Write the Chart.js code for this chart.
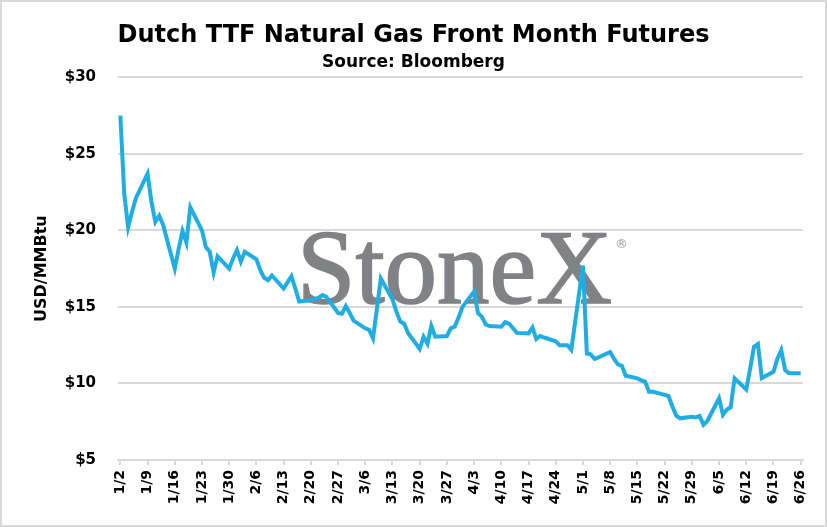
<!DOCTYPE html>
<html>
<head>
<meta charset="utf-8">
<script src="https://cdn.jsdelivr.net/npm/chart.js@4/dist/chart.umd.min.js"></script>
<style>
  html, body { margin: 0; padding: 0; background: #fff; }
  #wrap { width: 827px; height: 527px; position: relative; }
</style>
</head>
<body>
<div id="wrap"><canvas id="myChart" width="827" height="527"></canvas></div>
<script>
// trading days, 2023
const dates = [
  "1/2","1/3","1/4","1/5","1/6","1/9","1/10","1/11","1/12","1/13",
  "1/16","1/17","1/18","1/19","1/20","1/23","1/24","1/25","1/26","1/27",
  "1/30","1/31","2/1","2/2","2/3","2/6","2/7","2/8","2/9","2/10",
  "2/13","2/14","2/15","2/16","2/17","2/20","2/21","2/22","2/23","2/24",
  "2/27","2/28","3/1","3/2","3/3","3/6","3/7","3/8","3/9","3/10",
  "3/13","3/14","3/15","3/16","3/17","3/20","3/21","3/22","3/23","3/24",
  "3/27","3/28","3/29","3/30","3/31","4/3","4/4","4/5","4/6","4/7",
  "4/10","4/11","4/12","4/13","4/14","4/17","4/18","4/19","4/20","4/21",
  "4/24","4/25","4/26","4/27","4/28","5/1","5/2","5/3","5/4","5/5",
  "5/8","5/9","5/10","5/11","5/12","5/15","5/16","5/17","5/18","5/19",
  "5/22","5/23","5/24","5/25","5/26","5/29","5/30","5/31","6/1","6/2",
  "6/5","6/6","6/7","6/8","6/9","6/12","6/13","6/14","6/15","6/16",
  "6/19","6/20","6/21","6/22","6/23","6/26"
];

// USD/MMBtu
const prices = [
  27.5, 22.4, 20.2, 21.2, 22.1, 23.7, 21.85, 20.55, 20.95, 20.35,
  17.5, 18.8, 19.95, 19.2, 21.5, 20.0, 18.9, 18.6, 17.25, 18.3,
  17.5, 18.15, 18.7, 17.95, 18.6, 18.1, 17.4, 16.9, 16.75, 17.05,
  16.2, 16.6, 17.0, 16.2, 15.35, 15.45, 15.5, 15.6, 15.77, 15.65,
  14.6, 14.55, 15.05, 14.6, 14.1, 13.6, 13.5, 12.95, 14.9, 16.85,
  15.5, 14.7, 14.05, 13.9, 13.3, 12.25, 13.05, 12.6, 13.75, 13.05,
  13.1, 13.6, 13.7, 14.3, 15.0, 16.0, 14.6, 14.35, 13.85, 13.75,
  13.7, 14.0, 13.9, 13.6, 13.3, 13.27, 13.65, 12.9, 13.1, 13.0,
  12.75, 12.5, 12.5, 12.5, 12.2, 17.7, 11.95, 11.9, 11.6, 11.7,
  12.05, 11.6, 11.25, 11.15, 10.5, 10.33, 10.2, 10.1, 9.45, 9.45,
  9.25, 9.18, 8.5, 7.9, 7.72, 7.83, 7.78, 7.87, 7.3, 7.55,
  9.03, 7.95, 8.3, 8.45, 10.33, 9.6, 10.97, 12.4, 12.57, 10.35,
  10.76, 11.6, 12.18, 10.87, 10.66, 10.66
];

const tickLabels = [
  "1/2","1/9","1/16","1/23","1/30","2/6","2/13","2/20","2/27",
  "3/6","3/13","3/20","3/27","4/3","4/10","4/17","4/24",
  "5/1","5/8","5/15","5/22","5/29","6/5","6/12","6/19","6/26"
];

const yTicks = [5, 10, 15, 20, 25, 30];

// days since 1/2
function dayNum(md) {
  const [m, d] = md.split("/").map(Number);
  return Math.round((Date.UTC(2023, m - 1, d) - Date.UTC(2023, 0, 2)) / 86400000);
}

const points = dates.map((d, i) => ({ x: dayNum(d), y: prices[i] }));
const tickDays = tickLabels.map(dayNum);

const fontMain = "'DejaVu Sans', Tahoma, sans-serif";
const gridGray = "#d9d9d9";

const frame = {
  id: "frame",
  beforeDraw(chart) {
    const ctx = chart.ctx;
    ctx.save();
    ctx.fillStyle = "#fff";
    ctx.fillRect(0, 0, chart.width, chart.height);
    ctx.strokeStyle = gridGray;
    ctx.lineWidth = 2;
    ctx.strokeRect(1, 1, chart.width - 2, chart.height - 2);
    ctx.restore();
  },
};

const watermark = {
  id: "watermark",
  beforeDatasetsDraw(chart) {
    const { ctx, chartArea } = chart;
    const x = chartArea.left + 179, y = chartArea.top + 226;
    ctx.save();
    ctx.fillStyle = "#818286";
    ctx.strokeStyle = "#818286";
    ctx.lineWidth = 1.6;
    ctx.font = "105px 'Liberation Serif', serif";
    ctx.textBaseline = "alphabetic";
    ctx.fillText("StoneX", x, y);
    ctx.strokeText("StoneX", x, y);
    ctx.fillStyle = "#9a9b9e";
    ctx.font = "13px 'DejaVu Sans', sans-serif";
    ctx.fillText("®", chartArea.left + 497, chartArea.top + 171);
    ctx.restore();
  },
};

const ctx = document.getElementById("myChart").getContext("2d");
new Chart(ctx, {
  type: "line",
  data: {
    datasets: [{
      data: points,
      borderColor: "#1fade3",
      borderWidth: 4,
      pointRadius: 0,
      tension: 0,
      fill: false,
    }],
  },
  options: {
    responsive: false,
    animation: false,
    devicePixelRatio: 1,
    layout: { padding: { left: 24, right: 24, top: 0, bottom: 0 } },
    plugins: {
      legend: { display: false },
      tooltip: { enabled: false },
      title: {
        display: true,
        text: "Dutch TTF Natural Gas Front Month Futures",
        color: "#000",
        font: { family: fontMain, size: 24, weight: "bold" },
        padding: { top: 21, bottom: 0 },
      },
      subtitle: {
        display: true,
        text: "Source: Bloomberg",
        color: "#000",
        font: { family: fontMain, size: 17, weight: "bold" },
        padding: { top: 3, bottom: 4 },
      },
    },
    scales: {
      x: {
        type: "linear",
        min: -0.6,
        max: 175.6,
        afterBuildTicks(scale) {
          scale.ticks = tickDays.map(v => ({ value: v }));
        },
        afterFit(scale) { scale.height = 67; },
        border: { display: true, color: gridGray, width: 2 },
        grid: { drawOnChartArea: false, drawTicks: true, tickLength: 5, color: gridGray, lineWidth: 2 },
        ticks: {
          autoSkip: false,
          minRotation: 90,
          maxRotation: 90,
          padding: 5,
          color: "#000",
          font: { family: fontMain, size: 14, weight: "bold" },
          callback: (v) => tickLabels[tickDays.indexOf(v)],
        },
      },
      y: {
        min: 5,
        max: 30,
        afterBuildTicks(scale) {
          scale.ticks = yTicks.map(v => ({ value: v }));
        },
        afterFit(scale) { scale.width = 94; },
        border: { display: false },
        grid: { color: gridGray, lineWidth: 2, drawTicks: false },
        ticks: {
          padding: 22,
          color: "#000",
          font: { family: fontMain, size: 15, weight: "bold" },
          callback: (v) => "$" + v,
        },
        title: {
          display: true,
          text: "USD/MMBtu",
          color: "#000",
          font: { family: fontMain, size: 16, weight: "bold" },
          padding: { top: 8, bottom: 0 },
        },
      },
    },
  },
  plugins: [frame, watermark],
});
</script>
</body>
</html>
